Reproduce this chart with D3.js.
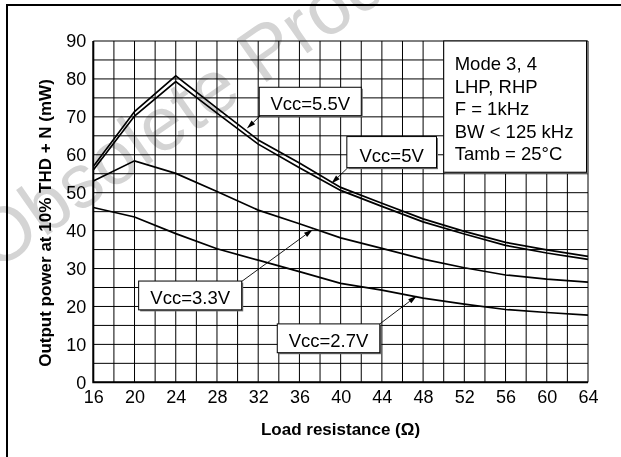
<!DOCTYPE html>
<html>
<head>
<meta charset="utf-8">
<script src="https://cdn.jsdelivr.net/npm/d3@7"></script>
<style>
  body { margin: 0; background: #fff; }
  svg { display: block; }
  text { font-family: "Liberation Sans", Arial, Helvetica, sans-serif; }
</style>
</head>
<body>
<svg id="chart" width="621" height="457"></svg>
<script>
// Output power at 10% THD+N versus load resistance, per supply voltage
const resistance = [16, 20, 24, 28, 32, 36, 40, 44, 48, 52, 56, 60, 64];   // Ω
const vcc55 = [56.9, 71.4, 80.8, 72.3, 63.9, 57.8, 51.4, 47.2, 43.1, 39.8, 36.9, 34.9, 33.2]; // mW
const vcc50 = [56.0, 70.2, 79.3, 71.0, 62.8, 56.6, 50.6, 46.4, 42.3, 39.1, 36.1, 34.1, 32.4];
const vcc33 = [53.1, 58.4, 55.1, 50.3, 45.4, 41.8, 38.1, 35.3, 32.5, 30.2, 28.3, 27.2, 26.4];
const vcc27 = [46.1, 43.6, 39.2, 35.2, 32.2, 29.2, 26.1, 24.3, 22.2, 20.6, 19.2, 18.4, 17.7];

const seriesNames = ["Vcc=5.5V", "Vcc=5V", "Vcc=3.3V", "Vcc=2.7V"];
const seriesValues = [vcc55, vcc50, vcc33, vcc27];

const xTickLabels = [16, 20, 24, 28, 32, 36, 40, 44, 48, 52, 56, 60, 64];
const yTickLabels = [0, 10, 20, 30, 40, 50, 60, 70, 80, 90];
const conditions = ["Mode 3, 4", "LHP, RHP", "F = 1kHz", "BW < 125 kHz", "Tamb = 25°C"];

// Callout layout, in data units: box [R0, R1, P0, P1], arrow from [R,P] to tip [R,P]
const callouts = [
  { box: [32.1, 42.0, 77.8, 70.3], from: [32.2, 70.3], tip: [30.9, 66.9] },
  { box: [40.6, 49.3, 64.8, 56.6], from: [40.7, 56.6], tip: [39.1, 52.4] },
  { box: [20.4, 30.4, 26.7, 19.1], from: [30.4, 26.6], tip: [37.3, 40.3] },
  { box: [33.85, 43.8, 15.4, 7.8], from: [43.8, 15.4], tip: [47.4, 22.8] }
];

const svg = d3.select("#chart");
svg.append("rect").attr("width", 621).attr("height", 457).attr("fill", "#fff");

const x = d3.scaleLinear().domain([16, 64]).range([93.3, 588]);
const y = d3.scaleLinear().domain([0, 90]).range([382.3, 41]);

// page frame (top and left rules)
svg.append("path")
  .attr("d", "M7,457 V5 H621")
  .attr("fill", "none").attr("stroke", "#000").attr("stroke-width", 2);

// grid
const grid = svg.append("g").attr("stroke", "#000").attr("stroke-width", 1);
grid.selectAll(".vx").data(d3.range(16, 64.01, 2)).join("line")
  .attr("x1", d => x(d)).attr("x2", d => x(d))
  .attr("y1", y(0)).attr("y2", y(90));
grid.selectAll(".hy").data(d3.range(0, 90.01, 5)).join("line")
  .attr("x1", x(16)).attr("x2", x(64))
  .attr("y1", d => y(d)).attr("y2", d => y(d));

// thicker left and bottom axis rules
svg.append("path")
  .attr("d", `M${x(16)},${y(90)} V${y(0)} H${x(64)}`)
  .attr("fill", "none").attr("stroke", "#000").attr("stroke-width", 2);

// tick labels via d3 axes
const xAxis = svg.append("g")
  .attr("transform", `translate(0,${y(0)})`)
  .call(d3.axisBottom(x).tickValues(xTickLabels).tickSize(0).tickPadding(8).tickFormat(d3.format("d")));
xAxis.select(".domain").remove();
xAxis.selectAll("text").attr("font-size", 18).attr("fill", "#000")
  .attr("font-family", "Liberation Sans, Arial, sans-serif");

const yAxis = svg.append("g")
  .attr("transform", `translate(${x(16)},0)`)
  .call(d3.axisLeft(y).tickValues(yTickLabels).tickSize(0).tickPadding(7).tickFormat(d3.format("d")));
yAxis.select(".domain").remove();
yAxis.selectAll("text").attr("font-size", 18).attr("fill", "#000")
  .attr("font-family", "Liberation Sans, Arial, sans-serif");

// axis titles
svg.append("text")
  .attr("x", 340.5).attr("y", 435)
  .attr("text-anchor", "middle").attr("font-size", 17).attr("font-weight", "bold")
  .text("Load resistance (Ω)");
svg.append("text")
  .attr("transform", "translate(51,223) rotate(-90)")
  .attr("text-anchor", "middle").attr("font-size", 17).attr("font-weight", "bold")
  .text("Output power at 10% THD + N (mW)");

// curves
const line = d3.line().x((d, i) => x(resistance[i])).y(d => y(d));
svg.selectAll(".curve").data(seriesValues).join("path")
  .attr("d", d => line(d))
  .attr("fill", "none").attr("stroke", "#000")
  .attr("stroke-width", 1.7).attr("stroke-linejoin", "miter");

// conditions box
function shadowBox(g, x0, y0, w, h) {
  g.append("rect").attr("x", x0 + 1.5).attr("y", y0 + 1.5).attr("width", w).attr("height", h)
    .attr("fill", "#6e6e6e");
  g.append("rect").attr("x", x0).attr("y", y0).attr("width", w).attr("height", h)
    .attr("fill", "#fff").attr("stroke", "#000").attr("stroke-width", 1);
}
const cond = svg.append("g");
shadowBox(cond, x(50), y(90), x(64) - x(50) - 1.5, y(55.4) - y(90));
cond.selectAll("text").data(conditions).join("text")
  .attr("x", x(50) + 11).attr("y", (d, i) => 70 + i * 22.5)
  .attr("font-size", 18.5).attr("fill", "#000")
  .text(d => d);

// callouts with arrows
const calloutLayer = svg.append("g");
callouts.forEach((c, i) => {
  const g = calloutLayer.append("g");
  const [r0, r1, p0, p1] = c.box;
  const bx = x(r0), by = y(p0), bw = x(r1) - x(r0), bh = y(p1) - y(p0);
  const fx = x(c.from[0]), fy = y(c.from[1]);
  const tx = x(c.tip[0]), ty = y(c.tip[1]);
  const ang = Math.atan2(ty - fy, tx - fx);
  const L = 9, W = 2.6;
  const bxh = tx - L * Math.cos(ang), byh = ty - L * Math.sin(ang);
  g.append("line").attr("x1", fx).attr("y1", fy).attr("x2", bxh).attr("y2", byh)
    .attr("stroke", "#000").attr("stroke-width", 0.9);
  g.append("path")
    .attr("d", `M${tx},${ty} L${bxh - W * Math.sin(ang)},${byh + W * Math.cos(ang)} L${bxh + W * Math.sin(ang)},${byh - W * Math.cos(ang)} Z`)
    .attr("fill", "#000");
  shadowBox(g, bx, by, bw, bh);
  g.append("text")
    .attr("x", bx + bw / 2).attr("y", by + bh - 6)
    .attr("text-anchor", "middle").attr("font-size", 18.5).attr("fill", "#000")
    .text(seriesNames[i]);
});

// status stamp across the sheet
svg.append("text")
  .attr("transform", "translate(-5,272) rotate(-35)")
  .attr("font-size", 76).attr("fill", "#d4d4d4")
  .style("mix-blend-mode", "multiply")
  .text("Obsolete Product(s)");
</script>
</body>
</html>
